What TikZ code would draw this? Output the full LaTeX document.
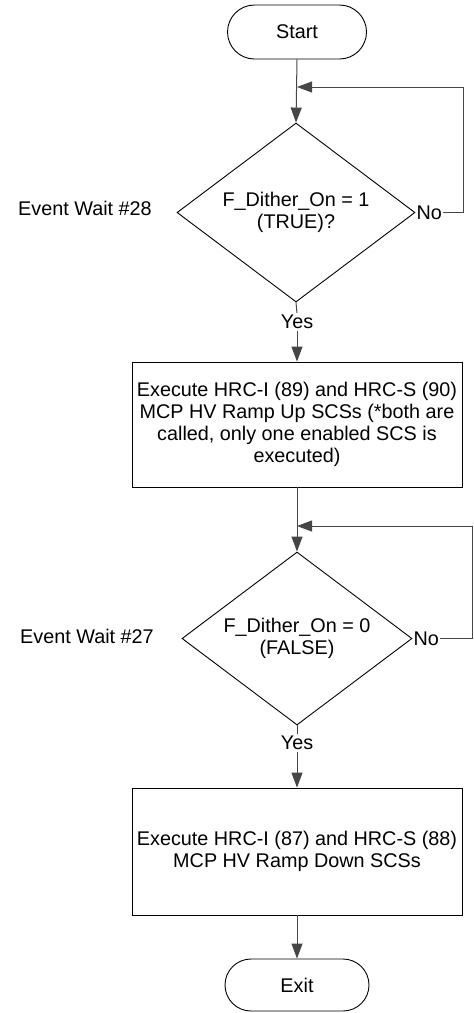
\documentclass[tikz,border=0pt]{standalone}
\usepackage{fontspec}
\setmainfont{Liberation Sans}
\usetikzlibrary{shapes.geometric,shapes.misc,arrows.meta}
\definecolor{connector}{RGB}{70,70,70}
\begin{document}
\begin{tikzpicture}[x=1pt,y=-1pt,
  font=\fontsize{19.8}{22}\selectfont,
  outline/.style={draw=black, line width=0.9pt},
  term/.style={outline, rounded rectangle, minimum width=139pt, minimum height=54pt, inner sep=0pt},
  decision/.style={outline, diamond, inner sep=0pt, aspect=1.33, align=center},
  process/.style={outline, rectangle, minimum width=330pt, inner sep=0pt, align=center},
  lbl/.style={inner sep=2pt},
  conn/.style={draw=connector, line width=1pt},
  arr/.style={-{Triangle[length=15pt,width=11pt]}}
]
\useasboundingbox (0,0) rectangle (474,1013);

% shapes
\node[term] (start) at (297,32) {Start};
\node[decision, minimum width=238pt, minimum height=179pt] (d1) at (296,212.5) {F\_Dither\_On = 1\\(TRUE)?};
\node[lbl] (w28) at (85,208) {Event Wait \#28};
\node[lbl, anchor=west, inner sep=1pt] (n1) at (d1.east) {No};
\node[lbl] (y1) at (297,322) {Yes};
\node[process, minimum height=125pt] (b1) at (297,424.5) {Execute HRC-I (89) and HRC-S (90)\\MCP HV Ramp Up SCSs (*both are\\called, only one enabled SCS is\\executed)};
\node[decision, minimum width=230pt, minimum height=173pt] (d2) at (297,638.5) {F\_Dither\_On = 0\\(FALSE)};
\node[lbl] (w27) at (87,636) {Event Wait \#27};
\node[lbl, anchor=west, inner sep=1pt] (n2) at (d2.east) {No};
\node[lbl] (y2) at (297,743) {Yes};
\node[process, minimum height=127pt] (b2) at (297,851.5) {Execute HRC-I (87) and HRC-S (88)\\MCP HV Ramp Down SCSs};
\node[term, minimum width=144pt, minimum height=52pt] (exit) at (297,985) {Exit};

% loop corners
\coordinate (r1) at (463,87);
\coordinate (r2) at (472,526);

% connectors
\draw[conn,arr] (start.south) -- (d1.north);
\draw[conn,arr] (n1.east) -| (r1) -- (start.south |- r1);
\draw[conn] (d1.south) -- (y1.north);
\draw[conn,arr] (y1.south) -- (b1.north);
\draw[conn,arr] (b1.south) -- (d2.north);
\draw[conn,arr] (n2.east) -| (r2) -- (b1.south |- r2);
\draw[conn] (d2.south) -- (y2.north);
\draw[conn,arr] (y2.south) -- (b2.north);
\draw[conn,arr] (b2.south) -- (exit.north);
\end{tikzpicture}
\end{document}
